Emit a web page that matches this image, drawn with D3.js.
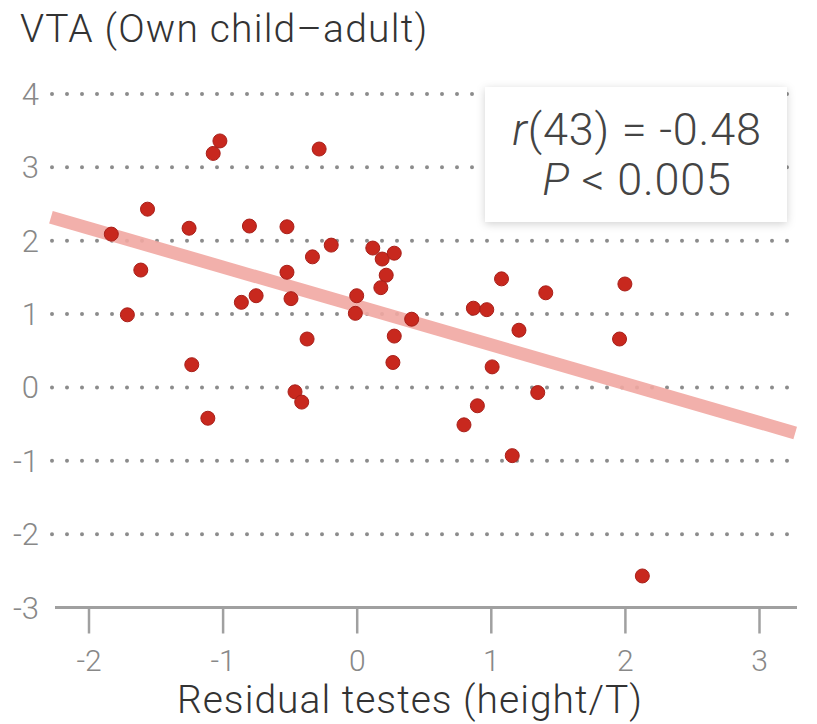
<!DOCTYPE html>
<html>
<head>
<meta charset="utf-8">
<script src="https://cdn.jsdelivr.net/npm/d3@7"></script>
<style>
body { margin: 0; background: #fff; }
text { font-family: Roboto, "Open Sans", sans-serif; }
</style>
</head>
<body>
<div id="chart"></div>
<script>
// --- data
var testes = [-1.83, -1.56, -1.61, -1.71, -1.25, -1.23, -1.11, -1.07, -1.02, -0.80,
              -0.86, -0.75, -0.52, -0.52, -0.49, -0.28, -0.46, -0.41, -0.37, -0.33,
              -0.19, 0.00, -0.01, 0.12, 0.19, 0.28, 0.22, 0.18, 0.41, 0.28,
              0.27, 1.08, 1.41, 2.00, 0.87, 0.97, 1.21, 1.96, 1.01, 1.35,
              0.90, 0.80, 1.16, 2.13];
var vta = [2.09, 2.43, 1.60, 0.99, 2.17, 0.31, -0.42, 3.19, 3.36, 2.20,
           1.16, 1.25, 2.19, 1.57, 1.21, 3.25, -0.06, -0.20, 0.66, 1.78,
           1.94, 1.25, 1.01, 1.90, 1.75, 1.83, 1.53, 1.36, 0.93, 0.70,
           0.34, 1.48, 1.29, 1.41, 1.08, 1.06, 0.78, 0.66, 0.28, -0.07,
           -0.25, -0.51, -0.93, -2.57];
var fitX = [-2.28, 3.27];
var fitY = [2.32, -0.62];
var xTicks = [-2, -1, 0, 1, 2, 3];
var yTicks = [4, 3, 2, 1, 0, -1, -2];
var statLines = ["r(43) = -0.48", "P < 0.005"];

var W = 817, H = 724;

var x = d3.scaleLinear().domain([-2, 3]).range([88.5, 759]);
var y = d3.scaleLinear().domain([-3, 4]).range([607.5, 94]);

var svg = d3.select('#chart')
    .append('svg')
    .attr('width', W)
    .attr('height', H);

var defs = svg.append('defs');
var f = defs.append('filter').attr('id', 'shadow')
    .attr('x', '-10%').attr('y', '-10%').attr('width', '120%').attr('height', '130%');
f.append('feDropShadow')
    .attr('dx', 0).attr('dy', 2).attr('stdDeviation', 4)
    .attr('flood-color', '#000').attr('flood-opacity', 0.18);

// title
svg.append('text')
    .attr('x', 20).attr('y', 42)
    .style('font-size', '39px')
    .style('font-weight', 300)
    .style('letter-spacing', '1.2px')
    .style('fill', '#333')
    .text('VTA (Own child\u2013adult)');

// dotted gridlines
svg.append('g').selectAll('line')
    .data(yTicks)
    .join('line')
    .attr('x1', 52).attr('x2', 802)
    .attr('y1', function(d) { return y(d); })
    .attr('y2', function(d) { return y(d); })
    .style('stroke', '#8c8c8c')
    .style('stroke-width', 4)
    .style('stroke-linecap', 'round')
    .style('stroke-dasharray', '0 15');

// y tick labels
svg.append('g').selectAll('text')
    .data(yTicks.concat([-3]))
    .join('text')
    .attr('x', 39)
    .attr('y', function(d) { return y(d) + 11; })
    .attr('text-anchor', 'end')
    .style('font-size', '31px')
    .style('font-weight', 300)
    .style('fill', '#888')
    .text(function(d) { return String(d); });

// x axis
svg.append('line')
    .attr('x1', 55).attr('x2', 797)
    .attr('y1', y(-3)).attr('y2', y(-3))
    .style('stroke', '#a0a0a0')
    .style('stroke-width', 3);

var xAxis = svg.append('g')
    .attr('transform', 'translate(0,' + y(-3) + ')')
    .call(d3.axisBottom(x).tickValues(xTicks).tickSize(26).tickPadding(16)
        .tickFormat(function(d) { return String(d); }));
xAxis.select('.domain').remove();
xAxis.selectAll('line').style('stroke', '#a0a0a0').style('stroke-width', 2.5);
xAxis.selectAll('text')
    .style('font-size', '30px')
    .style('font-weight', 300)
    .style('font-family', 'Roboto, sans-serif')
    .style('fill', '#888');

svg.append('text')
    .attr('x', 410).attr('y', 713)
    .attr('text-anchor', 'middle')
    .style('font-size', '39px')
    .style('font-weight', 300)
    .style('letter-spacing', '1px')
    .style('fill', '#333')
    .text('Residual testes (height/T)');

// regression line
svg.append('line')
    .attr('x1', x(fitX[0])).attr('y1', y(fitY[0]))
    .attr('x2', x(fitX[1])).attr('y2', y(fitY[1]))
    .style('stroke', '#f1a8a2')
    .style('stroke-width', 13)
    .style('opacity', 0.9);

// points
svg.append('g').selectAll('circle')
    .data(testes)
    .join('circle')
    .attr('cx', function(d) { return x(d); })
    .attr('cy', function(d, i) { return y(vta[i]); })
    .attr('r', 7)
    .style('fill', '#c8281e')
    .style('stroke', '#a8201a')
    .style('stroke-width', 1);

// stats box
svg.append('rect')
    .attr('x', 485).attr('y', 87)
    .attr('width', 302).attr('height', 135)
    .style('fill', '#fff')
    .attr('filter', 'url(#shadow)');

var st = svg.append('g').style('fill', '#444')
    .style('font-size', '45px').style('font-weight', 300)
    .style('letter-spacing', '0.8px')
    .attr('text-anchor', 'middle');
var t1 = st.append('text').attr('x', 637).attr('y', 145);
t1.append('tspan').style('font-style', 'italic').text('r');
t1.append('tspan').text(statLines[0].slice(1));
var t2 = st.append('text').attr('x', 637).attr('y', 195);
t2.append('tspan').style('font-style', 'italic').text('P');
t2.append('tspan').text(statLines[1].slice(1));
</script>
</body>
</html>
